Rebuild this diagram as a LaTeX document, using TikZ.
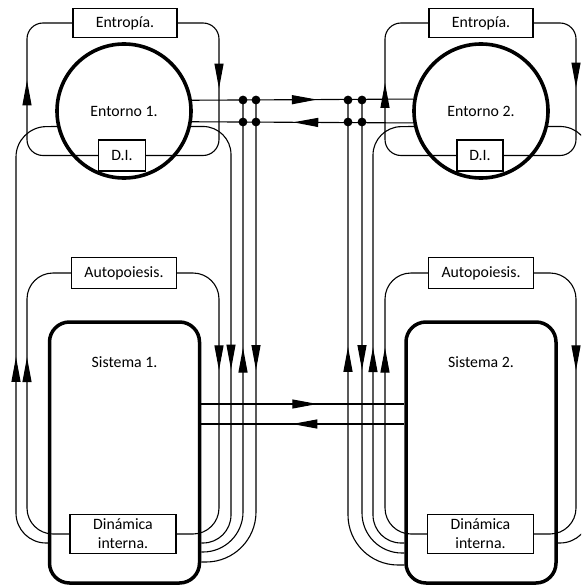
\documentclass[tikz,border=0pt]{standalone}
\usepackage{fontspec}
\setmainfont{Carlito}
\usetikzlibrary{arrows.meta, decorations.markings}
\tikzstyle{caja} = [rectangle, draw, line width = 1.4pt, inner sep = 0pt, minimum height = 29pt, align = center]
\tikzstyle{entorno} = [circle, draw, line width = 3.6pt, minimum size = 134pt, inner sep = 0pt]
\tikzstyle{sistema} = [rectangle, draw, line width = 3.5pt, rounded corners = 20pt, minimum width = 150pt, minimum height = 261pt]
\tikzstyle{linea} = [draw, line width = 1.1pt]
\tikzset{flecha/.style = {postaction = {decorate, decoration = {markings, mark = at position #1 with {\arrow{Triangle[length = 25pt, width = 9pt]}}}}}}
\begin{document}
\begin{tikzpicture}[x = 1pt, y = -1pt, every node/.style = {font = \fontsize{15.8pt}{19pt}\selectfont}]
			\clip (0, 0) rectangle (581, 586);
			% Place nodes
			\node [caja, minimum width = 104pt] (ent1) at (125, 23) {Entropía.};
			\node [caja, minimum width = 104pt] (ent2) at (481, 23) {Entropía.};
			\node [entorno] (env1) at (124, 111) {Entorno 1.};
			\node [entorno] (env2) at (481, 111) {Entorno 2.};
			\node [caja, minimum width = 47pt, minimum height = 31pt] (di1) at (122, 155.5) {D.I.};
			\node [caja, minimum width = 46pt, minimum height = 31pt] (di2) at (480, 155.5) {D.I.};
			\node [caja, minimum width = 105pt, minimum height = 31pt] (auto1) at (124, 273) {Autopoiesis.};
			\node [caja, minimum width = 105pt, minimum height = 31pt] (auto2) at (481, 273) {Autopoiesis.};
			\node [sistema, label = {[anchor = north, yshift = -32.5pt]north:Sistema 1.}] (sis1) at (124.5, 452.5) {};
			\node [sistema, label = {[anchor = north, yshift = -32.5pt]north:Sistema 2.}] (sis2) at (481, 452.5) {};
			\node [caja, minimum width = 106pt, minimum height = 39pt] (din1) at (123, 534) {Dinámica\\interna.};
			\node [caja, minimum width = 106pt, minimum height = 39pt] (din2) at (480.5, 534) {Dinámica\\interna.};
			
			% Junctions
			\coordinate (j1) at (243, 100);
			\coordinate (j2) at (256, 100);
			\coordinate (j3) at (348, 100);
			\coordinate (j4) at (362, 100);
			\foreach \x in {243, 256, 348, 362}
				\foreach \y in {100, 122}
					\fill (\x, \y) circle (4.4pt);
			
			% Draw edges, left side
			\path [linea, rounded corners = 16pt, flecha = 100pt] (ent1.east) -| (219, 155.5) -- (di1.east);
			\path [linea, rounded corners = 16pt, flecha = 139pt] (di1.west) -| (27, 23) -- (ent1.west);
			\path [linea, rounded corners = 30pt, flecha = 205pt] ([yshift = -90.5pt]sis1.west) -| (16, 127) -- (env1.193.5);
			\path [linea, rounded corners = 28pt, flecha = 271pt] (env1.-13.5) -| (231, 543) -- ([yshift = -90.5pt]sis1.east);
			\path [linea, rounded corners = 40pt, flecha = 229pt] ([yshift = -99.5pt]sis1.east) -| (j1);
			\path [linea, rounded corners = 50pt, flecha = 270pt] (j2) |- ([yshift = -109.5pt]sis1.east);
			\path [linea, rounded corners = 26pt, flecha = 128pt] (auto1.east) -| (219, 534) -- (din1.east);
			\path [linea, rounded corners = 26pt, flecha = 208pt] (din1.west) -| (27, 273) -- (auto1.west);
			
			% Draw edges, between both sides
			\path [linea, flecha = 125pt] (env1.9.2) -- (env2.170.8);
			\path [linea, flecha = 120pt] (env2.-170.8) -- (env1.-9.2);
			\path [linea, flecha = 116pt] ([yshift = 48.5pt]sis1.east) -- ([yshift = 48.5pt]sis2.west);
			\path [linea, flecha = 112pt] ([yshift = 28.5pt]sis2.west) -- ([yshift = 28.5pt]sis1.east);
			
			% Draw edges, right side
			\path [linea, rounded corners = 16pt, flecha = 100pt] (ent2.east) -| (576, 155.5) -- (di2.east);
			\path [linea, rounded corners = 16pt, flecha = 137pt] (di2.west) -| (385, 23) -- (ent2.west);
			\path [linea, rounded corners = 28pt, flecha = 215pt] ([yshift = -90.5pt]sis2.west) -| (373, 127) -- (env2.193.5);
			\path [linea, rounded corners = 30pt, flecha = 272pt] (env2.-13.5) -| (590, 543) -- ([yshift = -90.5pt]sis2.east);
			\path [linea, rounded corners = 40pt, flecha = 270pt] (j4) |- ([yshift = -100.5pt]sis2.west);
			\path [linea, rounded corners = 50pt, flecha = 253pt] ([yshift = -112.5pt]sis2.west) -| (j3);
			\path [linea, rounded corners = 26pt, flecha = 128pt] (auto2.east) -| (576, 534) -- (din2.east);
			\path [linea, rounded corners = 26pt, flecha = 217pt] (din2.west) -| (385, 273) -- (auto2.west);
		\end{tikzpicture}
\end{document}
